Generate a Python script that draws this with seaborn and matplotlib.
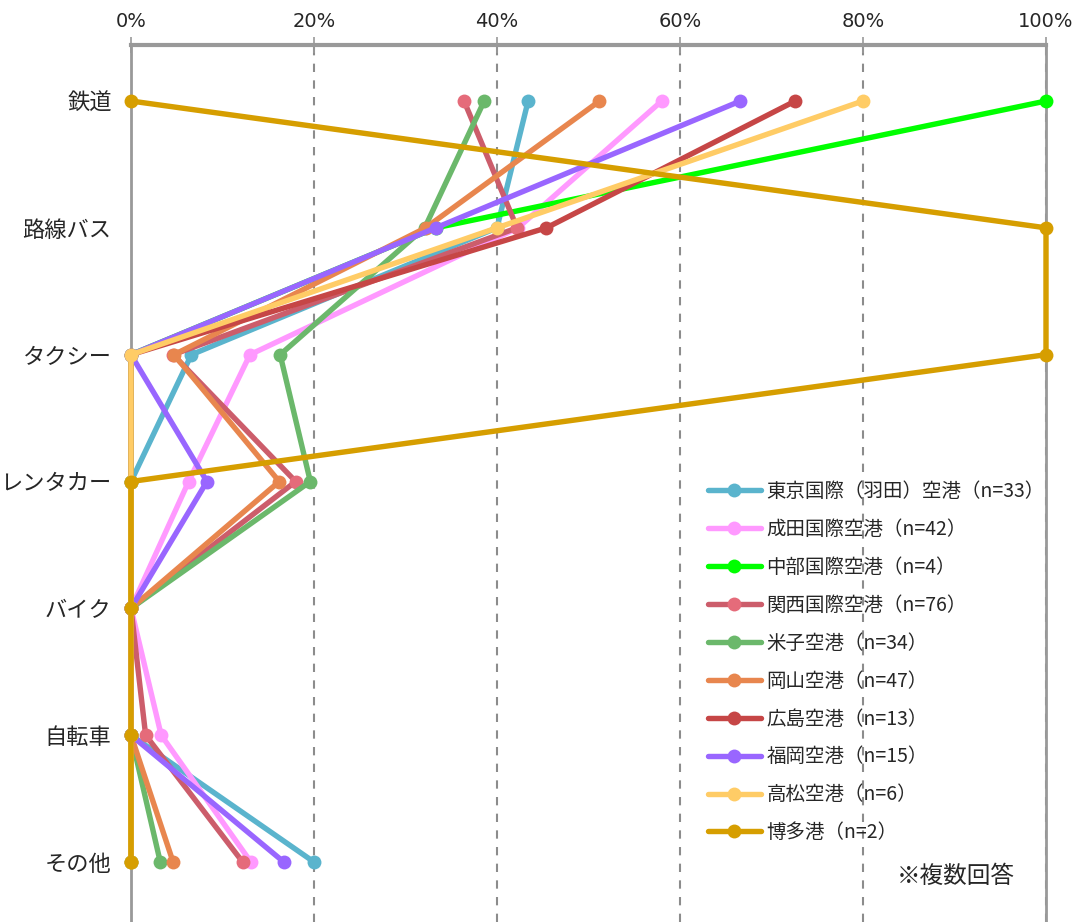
import numpy as np
import pandas as pd
import seaborn as sns
import matplotlib.pyplot as plt
from matplotlib.ticker import FixedLocator, PercentFormatter

sns.set_style('white')
plt.rcParams['font.family'] = ['Noto Sans CJK JP', 'DejaVu Sans']

# categories (top to bottom)
modes = ['鉄道', '路線バス', 'タクシー', 'レンタカー', 'バイク', '自転車', 'その他']

# airports / legend labels
airports = ['東京国際（羽田）空港（n=33）', '成田国際空港（n=42）', '中部国際空港（n=4）',
            '関西国際空港（n=76）', '米子空港（n=34）', '岡山空港（n=47）',
            '広島空港（n=13）', '福岡空港（n=15）', '高松空港（n=6）', '博多港（n=2）']

# share (%) per mode
tokyo = [43.4, 40.0, 6.6, 0, 0, 0, 20.0]
narita = [58.0, 42.3, 13.0, 6.3, 0, 3.3, 13.1]
chubu = [100, 33.3, 0, 0, 0, 0, 0]
kansai = [36.4, 42.2, 4.6, 18.0, 0, 1.6, 12.2]
yonago = [38.6, 32.1, 16.3, 19.6, 0, 0, 3.2]
okayama = [51.2, 32.2, 4.7, 16.2, 0, 0, 4.6]
hiroshima = [72.6, 45.4, 0, 0, 0, 0, 0]
fukuoka = [66.6, 33.3, 0, 8.3, 0, 0, 16.7]
takamatsu = [80.0, 40.0, 0, 0, 0, 0, 0]
hakata = [0, 100, 100, 0, 0, 0, 0]

series = [tokyo, narita, chubu, kansai, yonago, okayama, hiroshima, fukuoka, takamatsu, hakata]
line_colors = ['#5ab4cd', '#ff99ff', '#00ff00', '#cc5d6b', '#6bb86b',
               '#e8864e', '#c64646', '#9966ff', '#ffcc66', '#d69e00']
marker_colors = ['#5ab4cd', '#ff99ff', '#00ff00', '#e56b7a', '#6bb86b',
                 '#e8864e', '#c64646', '#9966ff', '#ffcc66', '#d69e00']

fig = plt.figure(figsize=(10.78, 9.22), dpi=100)
ax = fig.add_axes([131 / 1078, 0, (1046 - 131) / 1078, (922 - 45) / 922])

pos = np.arange(len(modes))
for name, vals, lc, mc in zip(airports, series, line_colors, marker_colors):
    df = pd.DataFrame({'share': vals, 'pos': pos})
    sns.lineplot(data=df, x='share', y='pos', sort=False, estimator=None, ax=ax,
                 color=lc, linewidth=3.9, marker='o', markersize=10,
                 markerfacecolor=mc, markeredgewidth=0, label=name, legend=False,
                 clip_on=False, zorder=3)

ax.set_xlim(0, 100)
ax.set_ylim(6.473, -0.4416)
ax.set_xlabel('')
ax.set_ylabel('')

# x axis on top
ax.xaxis.set_ticks_position('top')
ax.xaxis.set_label_position('top')
ax.set_xticks([0, 20, 40, 60, 80, 100])
ax.xaxis.set_major_formatter(PercentFormatter(decimals=0))
ax.tick_params(axis='x', direction='inout', length=12, width=1.2, color='#999999', pad=4,
               labelsize=14,
               labelfontfamily=['Liberation Sans Narrow', 'DejaVu Sans Condensed', 'DejaVu Sans'])

ax.set_yticks(pos)
ax.set_yticklabels(modes, fontsize=16)
ax.yaxis.set_minor_locator(FixedLocator(pos[:-1] + 0.5))
ax.tick_params(axis='y', which='major', length=0, pad=14)
ax.tick_params(axis='y', which='minor', length=8, width=1.2, color='#999999', direction='out')

ax.grid(axis='x', linestyle=(0, (4, 4)), color='#8c8c8c', linewidth=1.5)
ax.grid(axis='y', visible=False)
ax.set_axisbelow(True)

for side in ['top', 'left', 'right']:
    ax.spines[side].set_color('#999999')
    ax.spines[side].set_zorder(1)
ax.spines['top'].set_linewidth(3)
ax.spines['left'].set_linewidth(2)
ax.spines['right'].set_linewidth(2)
ax.spines['bottom'].set_visible(False)

leg = ax.legend(loc='upper left', bbox_to_anchor=(708 / 1078, 1 - 481 / 922),
                bbox_transform=fig.transFigure, frameon=False, fontsize=14,
                handlelength=2.7, handletextpad=0.3, labelspacing=0.87,
                borderpad=0, borderaxespad=0)

fig.text(956 / 1078, 1 - 876 / 922, '※複数回答', fontsize=17, ha='center', va='center')

fig.savefig('out.png', dpi=100)
